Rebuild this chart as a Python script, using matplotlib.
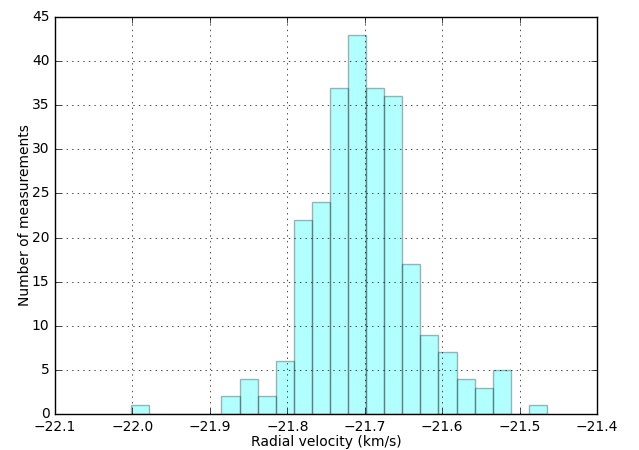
import numpy as np
import matplotlib
matplotlib.use('Agg')
import matplotlib.pyplot as plt

plt.style.use('classic')

# histogram of radial velocities: 23 bins, counts
v_min = -22.0018
v_max = -21.4646
counts = [1, 0, 0, 0, 0, 2, 4, 2, 6, 22, 24, 37, 43, 37, 36, 17, 9, 7, 4, 3, 5, 0, 1]

edges = np.linspace(v_min, v_max, len(counts) + 1)
centers = 0.5 * (edges[:-1] + edges[1:])

fig = plt.figure(figsize=(6.39, 4.5), dpi=100)
ax = fig.add_axes([55 / 639, 36 / 450, 542 / 639, 397 / 450])

ax.hist(centers, bins=edges, weights=counts, color='cyan', alpha=0.3)
ax.grid(True)
ax.set_xlim(-22.1, -21.4)
ax.set_ylim(0, 45)
ax.tick_params(labelsize=10)
ax.set_xlabel('Radial velocity (km/s)', fontsize=10, labelpad=1)
ax.set_ylabel('Number of measurements', fontsize=10, labelpad=0)

fig.savefig('out.png', dpi=100)
